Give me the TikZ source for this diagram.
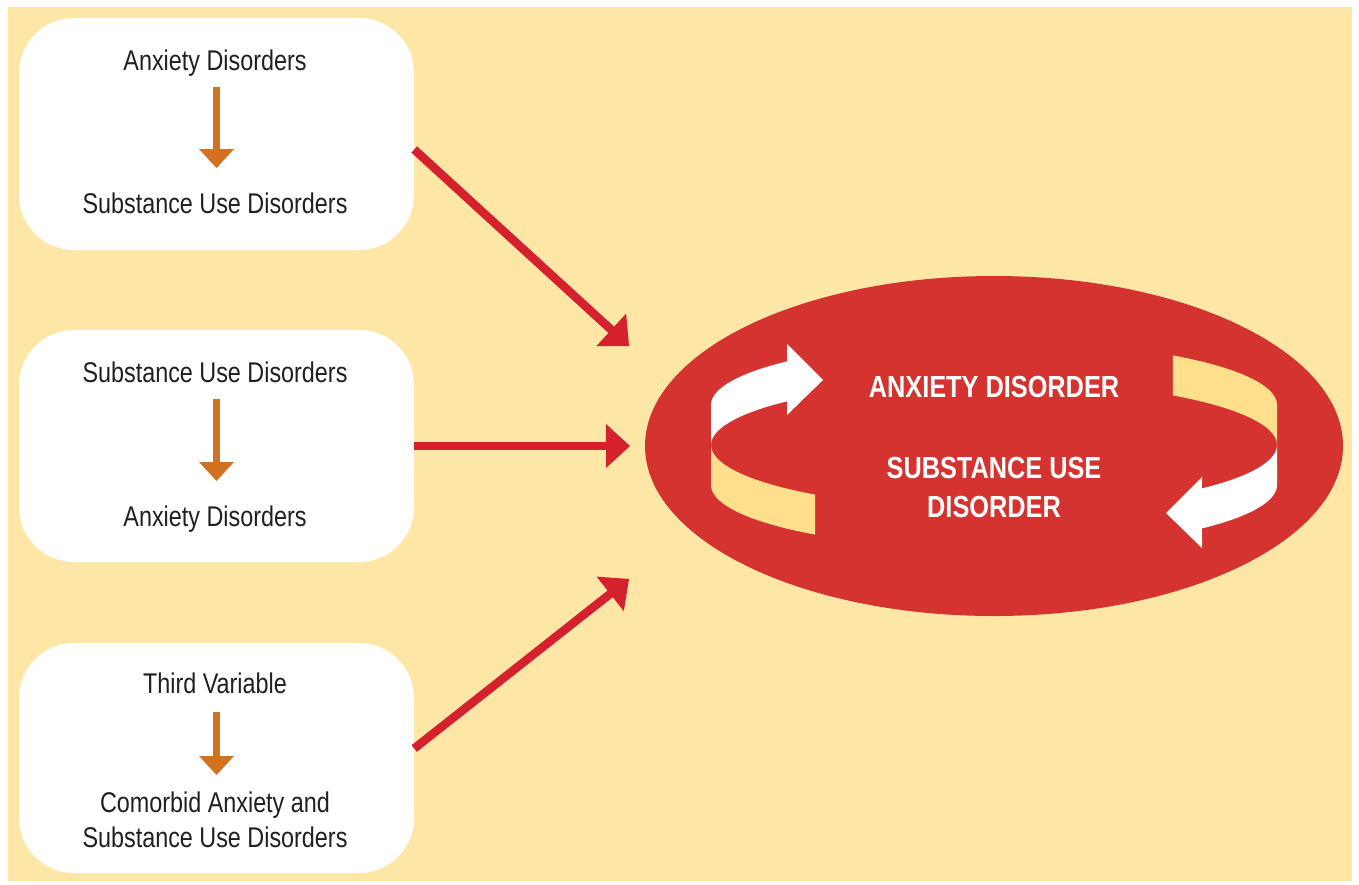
\documentclass[tikz,border=0pt]{standalone}
\usepackage{fontspec}
\setmainfont{Liberation Sans}[FakeStretch=0.82]
\newfontfamily\ellfont{Liberation Sans}[FakeStretch=0.83]
\usetikzlibrary{calc,shapes.geometric}
\definecolor{cream}{RGB}{253,230,166}
\definecolor{ellred}{RGB}{212,51,48}
\definecolor{arrred}{RGB}{212,33,45}
\definecolor{band}{RGB}{254,224,140}
\definecolor{orng}{RGB}{210,113,31}
\definecolor{txt}{RGB}{35,31,32}
% #1 start, #2 tip, #3 colour, #4 line width, #5 head length, #6 head half width, #7 shaft cut
\newcommand{\fatarrow}[7]{%
  \path ($(#2)!#5!(#1)$) coordinate (fab);
  \draw[#3, line width=#4] (#1) -- ($(#2)!#7!(#1)$);
  \fill[#3] (#2) -- ($(fab)!#6!90:(#2)$) -- ($(fab)!#6!-90:(#2)$) -- cycle;
}
\begin{document}
\begin{tikzpicture}[x=1pt,y=-1pt,
  box/.style={fill=white, draw=none, rounded corners=55pt, minimum width=395pt, minimum height=232pt, inner sep=0pt},
  lbl/.style={font=\fontsize{28.5}{35}\selectfont, text=txt, anchor=base, inner sep=0pt},
  elbl/.style={font=\ellfont\bfseries\fontsize{30.5}{38}\selectfont, text=white, anchor=base, inner sep=0pt}]
\useasboundingbox (0,0) rectangle (1359,884);
\fill[white] (0,0) rectangle (1359,884);
\fill[cream] (8,7) rectangle (1352,881);

% boxes
\node[box] (b1) at (216.5,134) {};
\node[box] (b2) at (216.5,446) {};
\node[box, minimum height=230pt] (b3) at (216.5,758) {};

% box texts
\node[lbl] (t1a) at (215,70) {Anxiety Disorders};
\node[lbl] (t1b) at (215,213) {Substance Use Disorders};
\node[lbl] (t2a) at (215,382) {Substance Use Disorders};
\node[lbl] (t2b) at (215,526) {Anxiety Disorders};
\node[lbl] (t3a) at (215,693) {Third Variable};
\node[lbl] (t3b) at (215,812) {Comorbid Anxiety and};
\node[lbl] (t3c) at (215,847) {Substance Use Disorders};

% orange arrows
\coordinate (o1s) at (216.5,87);  \coordinate (o1e) at (216.5,168);
\coordinate (o2s) at (216.5,399); \coordinate (o2e) at (216.5,481);
\coordinate (o3s) at (216.5,712); \coordinate (o3e) at (216.5,775);
\fatarrow{o1s}{o1e}{orng}{6.5pt}{19pt}{17.5pt}{17pt}
\fatarrow{o2s}{o2e}{orng}{6.5pt}{19pt}{17.5pt}{17pt}
\fatarrow{o3s}{o3e}{orng}{6.5pt}{19pt}{17.5pt}{17pt}

% central ellipse
\node[ellipse, fill=ellred, draw=none, minimum width=698pt, minimum height=340pt, inner sep=0pt] (core) at (994,446) {};

% red arrows
\coordinate (r1s) at (b1.east |- 0,149.5); \coordinate (r1e) at (629,346);
\coordinate (r2s) at (b2.east);           \coordinate (r2e) at (630,446);
\coordinate (r3s) at (b3.east |- 0,748.5); \coordinate (r3e) at (629,579);
\fatarrow{r1s}{r1e}{arrred}{8.5pt}{24pt}{22pt}{22pt}
\fatarrow{r2s}{r2e}{arrred}{8.5pt}{24pt}{22pt}{22pt}
\fatarrow{r3s}{r3e}{arrred}{8.5pt}{24pt}{22pt}{22pt}

% ring: left yellow (front)
\fill[band] plot[domain=180:129.2, samples=30] ({994+283*cos(\x)},{445+64*sin(\x)})
  -- plot[domain=129.2:180, samples=30] ({994+283*cos(\x)},{485+64*sin(\x)}) -- cycle;
% left white arrow (back)
\fill[white] plot[domain=180:223, samples=30] ({994+283*cos(\x)},{445+64*sin(\x)})
  -- (787,415) -- (823,380) -- (787,344)
  -- plot[domain=223:180, samples=30] ({994+283*cos(\x)},{405+64*sin(\x)}) -- cycle;
% right yellow (back)
\fill[band] plot[domain=309.2:360, samples=30] ({994+283*cos(\x)},{405+64*sin(\x)})
  -- plot[domain=360:309.2, samples=30] ({994+283*cos(\x)},{445+64*sin(\x)}) -- cycle;
% right white arrow (front)
\fill[white] plot[domain=0:42.7, samples=30] ({994+283*cos(\x)},{445+64*sin(\x)})
  -- (1202,477) -- (1166,513) -- (1202,548)
  -- plot[domain=42.7:0, samples=30] ({994+283*cos(\x)},{485+64*sin(\x)}) -- cycle;

% ellipse texts
\node[elbl] (e1) at (994,397) {ANXIETY DISORDER};
\node[elbl] (e2) at (994,478) {SUBSTANCE USE};
\node[elbl] (e3) at (994,517) {DISORDER};
\end{tikzpicture}
\end{document}
